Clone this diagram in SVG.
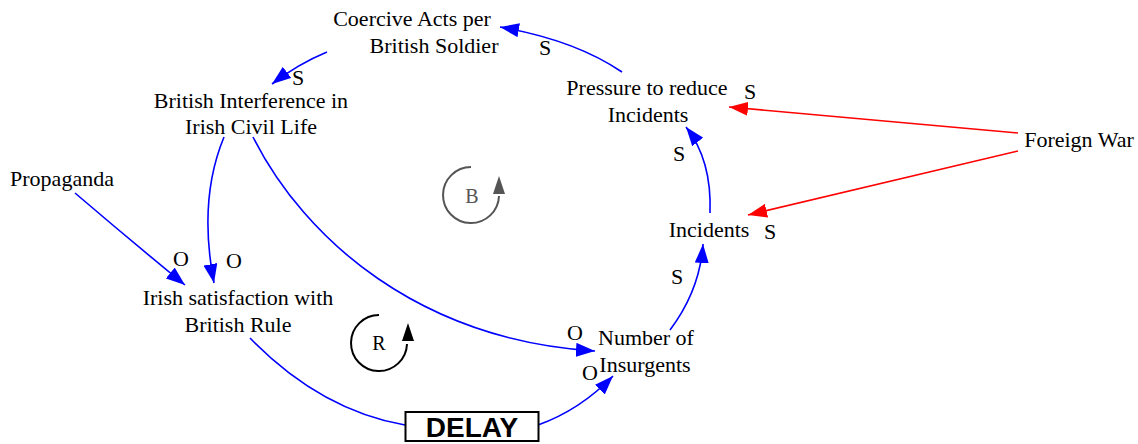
<svg xmlns="http://www.w3.org/2000/svg" width="1138" height="444" viewBox="0 0 1138 444">
<style>
.b{fill:none;stroke:#0000ff;stroke-width:1.6;marker-end:url(#ab)}
.r{fill:none;stroke:#ff0000;stroke-width:1.6;marker-end:url(#ar)}
</style>
<defs>
<marker id="ab" markerUnits="userSpaceOnUse" markerWidth="20" markerHeight="14" refX="19" refY="7" orient="auto"><path d="M0,0 L19,7 L0,14 z" fill="#0000ff"/></marker>
<marker id="ar" markerUnits="userSpaceOnUse" markerWidth="20" markerHeight="14" refX="19" refY="7" orient="auto"><path d="M0,0 L19,7 L0,14 z" fill="#ff0000"/></marker>
</defs>
<rect width="1138" height="444" fill="#fff"/>
<g id="connectors">
<path class="b" d="M622 72 Q575 40 500 27"/>
<path class="b" d="M327 52 Q298 64 272 84"/>
<path class="b" d="M224 137 Q198 200 214 283"/>
<path class="b" d="M75 193 Q130 240 185 285"/>
<path class="b" d="M253 137 C305 240 420 340 595 351"/>
<path fill="none" stroke="#0000ff" stroke-width="1.6" d="M250 338 Q320 410 405 425"/>
<path class="b" d="M538 425 Q580 410 613 376"/>
<path class="b" d="M670 330 Q700 290 703 244"/>
<path class="b" d="M710 213 Q712 160 686 127"/>
<path class="r" d="M1018 133 L729 107"/>
<path class="r" d="M1018 151 L748 215"/>
<g font-family="Liberation Serif, serif" font-size="22" text-anchor="middle" fill="#000">
<text x="545" y="55">S</text>
<text x="298" y="85">S</text>
<text x="234" y="268">O</text>
<text x="181" y="266">O</text>
<text x="575" y="340">O</text>
<text x="590" y="380">O</text>
<text x="677" y="284">S</text>
<text x="679" y="161">S</text>
<text x="750" y="99">S</text>
<text x="770" y="239">S</text>
</g>
</g>
<g font-family="Liberation Serif, serif" font-size="22" text-anchor="middle" fill="#000">
<g id="coercive"><text x="412" y="26">Coercive Acts per</text><text x="434" y="53">British Soldier</text></g>
<g id="interference"><text x="251" y="108">British Interference in</text><text x="251" y="134">Irish Civil Life</text></g>
<g id="propaganda"><text x="62" y="186">Propaganda</text></g>
<g id="satisfaction"><text x="238" y="305">Irish satisfaction with</text><text x="238" y="332">British Rule</text></g>
<g id="insurgents"><text x="646" y="345">Number of</text><text x="645" y="372">Insurgents</text></g>
<g id="incidents"><text x="709" y="237">Incidents</text></g>
<g id="pressure"><text x="647" y="95">Pressure to reduce</text><text x="648" y="122">Incidents</text></g>
<g id="foreignwar"><text x="1079" y="147">Foreign War</text></g>
</g>
<g id="delay"><rect x="405.5" y="412" width="133" height="29" fill="#fff" stroke="#000" stroke-width="2"/><text x="472" y="437" font-family="Liberation Sans, Arial, sans-serif" font-weight="bold" font-size="28" text-anchor="middle">DELAY</text></g>
<g id="loopB">
<path d="M471 167 A28 28 0 1 0 499 196" fill="none" stroke="#555" stroke-width="2"/>
<path d="M499 176 L493 194 L505 194 z" fill="#555"/>
<text x="472" y="203" font-family="Liberation Serif, serif" font-size="20" fill="#555" text-anchor="middle">B</text>
</g>
<g id="loopR">
<path d="M379 315 A28 28 0 1 0 407 344" fill="none" stroke="#000" stroke-width="2"/>
<path d="M408 323 L402 341 L414 341 z" fill="#000"/>
<text x="379" y="350" font-family="Liberation Serif, serif" font-size="20" fill="#000" text-anchor="middle">R</text>
</g>
</svg>
